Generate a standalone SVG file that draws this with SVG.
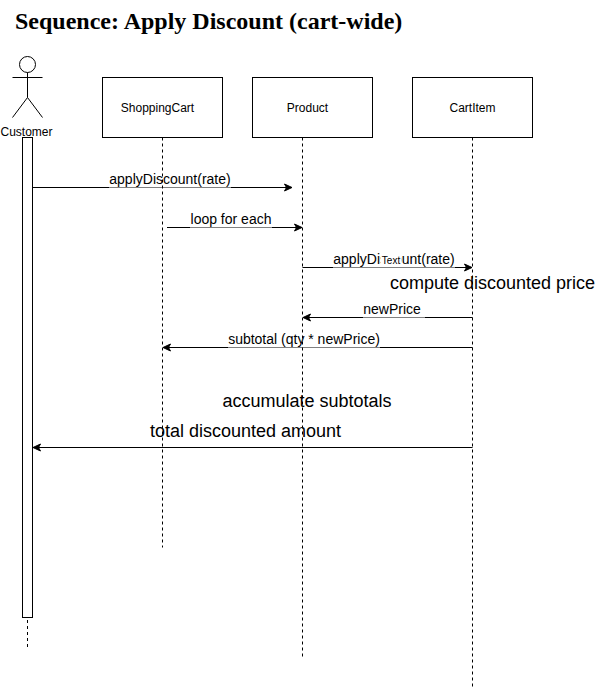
<svg xmlns="http://www.w3.org/2000/svg" width="603" height="689" viewBox="0 0 603 689">
<style>
text{font-family:"Liberation Sans",Arial,sans-serif;fill:#000}
.box{fill:#fff;stroke:#000;stroke-width:1}
.life{fill:none;stroke:#000;stroke-width:1;stroke-dasharray:3 3}
.msg{fill:none;stroke:#000;stroke-width:1;marker-end:url(#arrow)}
.actor{fill:none;stroke:#000;stroke-width:1}
.bg{fill:#fff;stroke:none}
.name{font-size:12px;text-anchor:middle}
.lbl{font-size:14px;text-anchor:middle}
.big{font-size:18px;text-anchor:middle}
</style>
<defs>
<marker id="arrow" markerUnits="userSpaceOnUse" markerWidth="10" markerHeight="10" refX="8" refY="4.5" orient="auto">
<path d="M0.5 1L8 4.5L0.5 8L2.5 4.5Z" fill="#000" stroke="#000" stroke-width="1"/>
</marker>
</defs>
<rect width="603" height="689" fill="#fff"/>
<text id="title" x="15" y="29" style="font-family:'Liberation Serif','Times New Roman',serif;font-weight:bold;font-size:24px">Sequence: Apply Discount (cart-wide)</text>
<g id="connectors">
<path class="msg" d="M32.5 187.500H292"/>
<path class="msg" d="M167 227.500H302"/>
<path class="msg" d="M302.500 267.500H472"/>
<path class="msg" d="M472.500 317.500H303"/>
<path class="msg" d="M472.500 347.500H163"/>
<path class="msg" d="M472.500 447.500H33"/>
</g>
<g id="label-backgrounds">
<rect class="bg" x="109" y="172" width="122" height="15.500"/>
<rect class="bg" x="190" y="212" width="82" height="15.500"/>
<rect class="bg" x="333" y="252" width="122" height="15.500"/>
<rect class="bg" x="363" y="302" width="62" height="15.500"/>
<rect class="bg" x="228" y="332" width="152" height="15.500"/>
</g>
<g id="lifelines">
<path class="life" d="M27.500 620V647.500"/>
<path class="life" d="M162.500 137.500V547.500"/>
<path class="life" d="M302.500 137.500V657.500"/>
<path class="life" d="M472.500 137.500V687.500"/>
</g>
<g id="customer">
<circle class="actor" cx="27.500" cy="64.500" r="8"/>
<path class="actor" d="M27.500 72.500V97.500M12.500 77.500H42.500M12.500 117.500L27.500 97.500L42.500 117.500"/>
<text class="name" x="26.500" y="136">Customer</text>
<rect id="customer-activation" class="box" x="22.500" y="137.500" width="10" height="480"/>
</g>
<g id="shoppingcart">
<rect class="box" x="102.500" y="77.500" width="120" height="60"/>
<text class="name" x="157.500" y="112">ShoppingCart</text>
</g>
<g id="product">
<rect class="box" x="252.500" y="77.500" width="120" height="60"/>
<text class="name" x="307.500" y="112">Product</text>
</g>
<g id="cartitem">
<rect class="box" x="412.500" y="77.500" width="120" height="60"/>
<text class="name" x="472.500" y="112">CartItem</text>
</g>
<g id="labels">
<text class="lbl" x="170" y="184">applyDiscount(rate)</text>
<text class="lbl" x="231" y="224">loop for each</text>
<text class="lbl" x="394" y="264">applyDiscount(rate)</text>
<rect class="bg" x="380.500" y="254" width="21" height="11"/>
<text x="391" y="264" style="font-size:10px;text-anchor:middle">Text</text>
<text class="lbl" x="392" y="314">newPrice</text>
<text class="lbl" x="304" y="344">subtotal (qty * newPrice)</text>
<text class="big" x="492.500" y="289">compute discounted price</text>
<text class="big" x="307" y="407">accumulate subtotals</text>
<text class="big" x="245.500" y="437">total discounted amount</text>
</g>
</svg>
